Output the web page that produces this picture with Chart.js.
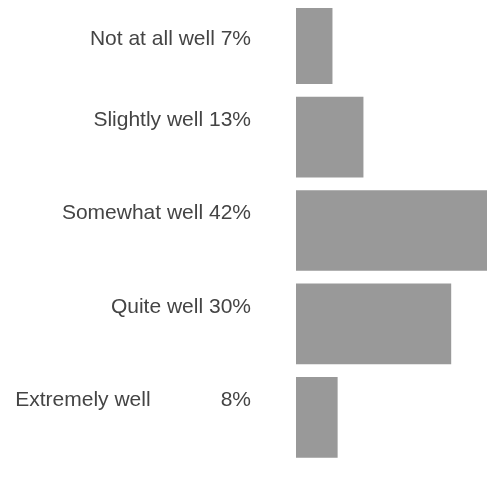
<!DOCTYPE html>
<html>
<head>
<meta charset="utf-8">
<script src="https://cdn.jsdelivr.net/npm/chart.js@4"></script>
<style>
  html, body { margin: 0; padding: 0; background: #fff; overflow: hidden; }
  #wrap { position: relative; width: 487px; height: 480px; margin-top: -3px; }
</style>
</head>
<body>
<div id="wrap"><canvas id="barChart"></canvas></div>
<script>
  // Survey answers, one bar per answer
  var answers = ["Not at all well", "Slightly well", "Somewhat well", "Quite well", "Extremely well"];
  var shares = [7, 13, 42, 30, 8];
  // first label sits a little lower than the rest, so it gets an empty line on top
  var tickLabels = [["", "Not at all well 7%"], "Slightly well 13%", "Somewhat well 42%", "Quite well 30%", "Extremely well            8%"];

  var barData = {
    labels: tickLabels,
    datasets: [{
      label: "Share",
      data: shares,
      backgroundColor: "#999999",
      borderWidth: 0,
      barThickness: 80,
      clip: { left: 0, top: -11, right: 0, bottom: 0 }
    }]
  };

  var myBarChart = new Chart(document.getElementById('barChart'), {
    type: 'bar',
    data: barData,
    options: {
      indexAxis: 'y',
      responsive: true,
      maintainAspectRatio: false,
      animation: false,
      layout: { padding: { top: 0, bottom: 13, left: 0, right: 0 } },
      plugins: {
        legend: { display: false },
        tooltip: { enabled: false }
      },
      scales: {
        x: {
          display: false,
          min: 0,
          max: 37
        },
        y: {
          grid: { display: false, drawTicks: false },
          border: { display: false },
          // fixed label column, and no extra room above/below the bars
          afterFit: function (scale) {
            scale.width = 296;
            scale.paddingTop = 0;
            scale.paddingBottom = 0;
          },
          ticks: {
            padding: 45,
            labelOffset: -17,
            color: '#444444',
            font: { family: '"Liberation Sans", Arial, sans-serif', size: 21 }
          }
        }
      }
    }
  });
</script>
</body>
</html>
